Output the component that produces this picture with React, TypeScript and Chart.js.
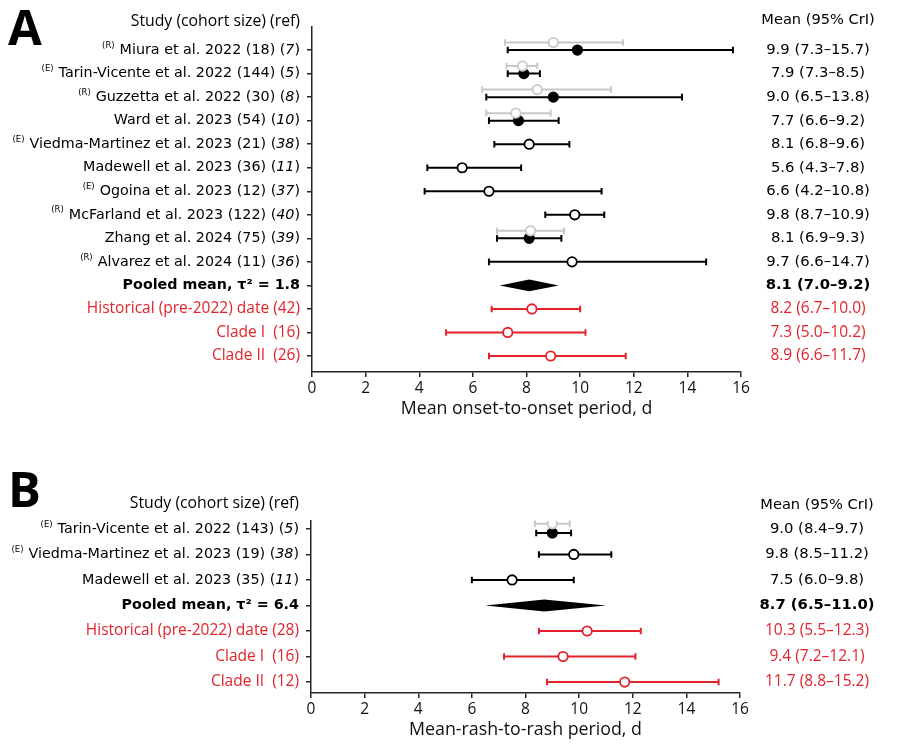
import React, { useEffect, useRef } from 'react';
import { Chart, registerables } from 'chart.js';
Chart.register(...registerables);

// ---------- Panel A data ----------
const A_STUDY = ['Miura et al. 2022', 'Tarin-Vicente et al. 2022', 'Guzzetta et al. 2022', 'Ward et al. 2023', 'Viedma-Martinez et al. 2023', 'Madewell et al. 2023', 'Ogoina et al. 2023', 'McFarland et al. 2023', 'Zhang et al. 2024', 'Alvarez et al. 2024'];
const A_TAG = ['R', 'E', 'R', '', 'E', '', 'E', 'R', '', 'R'];
const A_N = [18, 144, 30, 54, 21, 36, 12, 122, 75, 11];
const A_REF = [7, 5, 8, 10, 38, 11, 37, 40, 39, 36];
const A_MEAN = [9.9, 7.9, 9.0, 7.7, 8.1, 5.6, 6.6, 9.8, 8.1, 9.7];
const A_LOW = [7.3, 7.3, 6.5, 6.6, 6.8, 4.3, 4.2, 8.7, 6.9, 6.6];
const A_HIGH = [15.7, 8.5, 13.8, 9.2, 9.6, 7.8, 10.8, 10.9, 9.3, 14.7];
const A_FILLED = [true, true, true, true, false, false, false, false, true, false];
const A_GRAY_MEAN = [9.0, 7.85, 8.4, 7.6, null, null, null, null, 8.15, null];
const A_GRAY_LOW = [7.2, 7.25, 6.35, 6.5, null, null, null, null, 6.9, null];
const A_GRAY_HIGH = [11.6, 8.4, 11.15, 8.9, null, null, null, null, 9.4, null];
const A_POOLED = [8.1, 7.0, 9.2];
const A_TAU = 1.8;
const A_GROUP = ['Historical (pre-2022) date', 'Clade I ', 'Clade II '];
const A_GROUP_N = [42, 16, 26];
const A_GROUP_MEAN = [8.2, 7.3, 8.9];
const A_GROUP_LOW = [6.7, 5.0, 6.6];
const A_GROUP_HIGH = [10.0, 10.2, 11.7];
const A_GROUP_LOW_REPORTED = [6.7, 5.0, 6.6];

// ---------- Panel B data ----------
const B_STUDY = ['Tarin-Vicente et al. 2022', 'Viedma-Martinez et al. 2023', 'Madewell et al. 2023'];
const B_TAG = ['E', 'E', ''];
const B_N = [143, 19, 35];
const B_REF = [5, 38, 11];
const B_MEAN = [9.0, 9.8, 7.5];
const B_LOW = [8.4, 8.5, 6.0];
const B_HIGH = [9.7, 11.2, 9.8];
const B_FILLED = [true, false, false];
const B_GRAY_MEAN = [9.0, null, null];
const B_GRAY_LOW = [8.35, null, null];
const B_GRAY_HIGH = [9.65, null, null];
const B_POOLED = [8.7, 6.5, 11.0];
const B_TAU = 6.4;
const B_GROUP = ['Historical (pre-2022) date', 'Clade I ', 'Clade II '];
const B_GROUP_N = [28, 16, 12];
const B_GROUP_MEAN = [10.3, 9.4, 11.7];
const B_GROUP_LOW = [8.5, 7.2, 8.8];
const B_GROUP_HIGH = [12.3, 12.1, 15.2];
const B_GROUP_LOW_REPORTED = [5.5, 7.2, 8.8];

const X_MIN = 0;
const X_MAX = 16;
const X_STEP = 2;

const BLACK = '#000000';
const AXIS = '#262626';
const GRAY = '#c8c8c8';
const RED = '#e3232b';
const DJ = '"DejaVu Sans"';
const OS = '"Open Sans"';

const PANELS = [
  {
    letter: 'A', height: 440, top: 0,
    study: A_STUDY, tag: A_TAG, n: A_N, ref: A_REF, mean: A_MEAN, low: A_LOW, high: A_HIGH, filled: A_FILLED,
    gMean: A_GRAY_MEAN, gLow: A_GRAY_LOW, gHigh: A_GRAY_HIGH,
    pooled: A_POOLED, tau: A_TAU,
    group: A_GROUP, groupN: A_GROUP_N, groupMean: A_GROUP_MEAN, groupLow: A_GROUP_LOW, groupHigh: A_GROUP_HIGH, groupLowRep: A_GROUP_LOW_REPORTED,
    xTitle: 'Mean onset-to-onset period, d',
    yMin: -0.98, yMax: 13.68, padLeft: 306, padRight: 159, padTop: 27, xHeight: 68, titlePad: 20,
    blackOff: 0, grayOff: -0.32, diamondH: 5.8,
    letterY: 45, headerStudyY: 26, headerMeanY: 24,
  },
  {
    letter: 'B', height: 309, top: 440,
    study: B_STUDY, tag: B_TAG, n: B_N, ref: B_REF, mean: B_MEAN, low: B_LOW, high: B_HIGH, filled: B_FILLED,
    gMean: B_GRAY_MEAN, gLow: B_GRAY_LOW, gHigh: B_GRAY_HIGH,
    pooled: B_POOLED, tau: B_TAU,
    group: B_GROUP, groupN: B_GROUP_N, groupMean: B_GROUP_MEAN, groupLow: B_GROUP_LOW, groupHigh: B_GROUP_HIGH, groupLowRep: B_GROUP_LOW_REPORTED,
    xTitle: 'Mean-rash-to-rash period, d',
    yMin: -0.31, yMax: 6.43, padLeft: 305, padRight: 160, padTop: 81, xHeight: 56, titlePad: 8,
    blackOff: 0.16, grayOff: -0.2, diamondH: 6,
    letterY: 67, headerStudyY: 68, headerMeanY: 69,
  },
];

const f1 = (v: number) => v.toFixed(1);

function makePlugin(P: any) {
  const nS = P.study.length;
  const pooledRow = nS;
  return {
    id: 'forest' + P.letter,
    beforeDatasetsDraw(chart: any) {
      const ctx = chart.ctx;
      const xs = chart.scales.x;
      const ys = chart.scales.y;
      const bar = (lo: number, hi: number, row: number, color: string) => {
        const y = ys.getPixelForValue(row);
        const x1 = xs.getPixelForValue(lo);
        const x2 = xs.getPixelForValue(hi);
        ctx.save();
        ctx.strokeStyle = color;
        ctx.lineWidth = 2;
        ctx.beginPath();
        ctx.moveTo(x1, y); ctx.lineTo(x2, y);
        ctx.moveTo(x1, y - 3.3); ctx.lineTo(x1, y + 3.3);
        ctx.moveTo(x2, y - 3.3); ctx.lineTo(x2, y + 3.3);
        ctx.stroke();
        ctx.restore();
      };
      for (let i = 0; i < nS; i++) {
        if (P.gMean[i] != null) bar(P.gLow[i], P.gHigh[i], i + P.grayOff, GRAY);
      }
      for (let i = 0; i < nS; i++) {
        bar(P.low[i], P.high[i], i + (P.gMean[i] != null ? P.blackOff : 0), BLACK);
      }
      for (let i = 0; i < P.group.length; i++) {
        bar(P.groupLow[i], P.groupHigh[i], pooledRow + 1 + i, RED);
      }
      // pooled diamond
      const [pm, pl, ph] = P.pooled;
      const y = ys.getPixelForValue(pooledRow);
      ctx.save();
      ctx.fillStyle = BLACK;
      ctx.beginPath();
      ctx.moveTo(xs.getPixelForValue(pl), y);
      ctx.lineTo(xs.getPixelForValue(pm), y - P.diamondH);
      ctx.lineTo(xs.getPixelForValue(ph), y);
      ctx.lineTo(xs.getPixelForValue(pm), y + P.diamondH);
      ctx.closePath();
      ctx.fill();
      ctx.restore();
    },
    afterDraw(chart: any) {
      const ctx = chart.ctx;
      const ys = chart.scales.y;
      const area = chart.chartArea;
      const rightEdge = area.left - 12;
      const valX = area.right + 77;
      ctx.save();
      // panel letter
      ctx.fillStyle = BLACK;
      ctx.textAlign = 'left';
      ctx.textBaseline = 'alphabetic';
      ctx.font = `bold 49px ${OS}`;
      ctx.fillText(P.letter, 8, P.letterY);
      // headers
      ctx.font = `15.8px ${OS}`;
      ctx.textAlign = 'right';
      ctx.fillText('Study (cohort size) (ref)', rightEdge, P.headerStudyY);
      ctx.font = `14.6px ${DJ}`;
      ctx.textAlign = 'center';
      ctx.fillText('Mean (95% CrI)', valX, P.headerMeanY);
      ctx.textBaseline = 'middle';
      // study rows
      for (let i = 0; i < nS; i++) {
        const y = ys.getPixelForValue(i);
        let x = rightEdge;
        ctx.fillStyle = BLACK;
        ctx.textAlign = 'right';
        ctx.font = `14.3px ${DJ}`;
        ctx.fillText(')', x, y);
        x -= ctx.measureText(')').width;
        ctx.font = `italic 14.3px ${DJ}`;
        const r = String(P.ref[i]);
        ctx.fillText(r, x, y);
        x -= ctx.measureText(r).width;
        ctx.font = `14.3px ${DJ}`;
        const t = `${P.study[i]} (${P.n[i]}) (`;
        ctx.fillText(t, x, y);
        x -= ctx.measureText(t).width;
        if (P.tag[i]) {
          ctx.font = `8.5px ${DJ}`;
          ctx.fillText(`(${P.tag[i]})`, x - 5, y - 4.5);
        }
        ctx.font = `14.8px ${DJ}`;
        ctx.textAlign = 'center';
        ctx.fillText(`${f1(P.mean[i])} (${f1(P.low[i])}\u2013${f1(P.high[i])})`, valX, y);
      }
      // pooled row
      {
        const y = ys.getPixelForValue(pooledRow);
        ctx.fillStyle = BLACK;
        ctx.font = `bold 14.3px ${DJ}`;
        ctx.textAlign = 'right';
        ctx.fillText(`Pooled mean, \u03c4\u00b2 = ${f1(P.tau)}`, rightEdge, y);
        ctx.font = `bold 14.8px ${DJ}`;
        ctx.textAlign = 'center';
        const [pm, pl, ph] = P.pooled;
        ctx.fillText(`${f1(pm)} (${f1(pl)}\u2013${f1(ph)})`, valX, y);
      }
      // groups
      for (let i = 0; i < P.group.length; i++) {
        const y = ys.getPixelForValue(pooledRow + 1 + i);
        ctx.fillStyle = RED;
        ctx.font = `15.5px ${OS}`;
        ctx.textAlign = 'right';
        ctx.fillText(`${P.group[i]} (${P.groupN[i]})`, rightEdge, y);
        ctx.textAlign = 'center';
        ctx.fillText(`${f1(P.groupMean[i])} (${f1(P.groupLowRep[i])}\u2013${f1(P.groupHigh[i])})`, valX, y);
      }
      ctx.restore();
    },
  };
}

function buildChart(canvas: HTMLCanvasElement, P: any) {
  const nS = P.study.length;
  const pooledRow = nS;
  const rows: number[] = [];
  for (let i = 0; i < nS + 1 + P.group.length; i++) rows.push(i);
  const gray: any[] = [];
  const filled: any[] = [];
  const open: any[] = [];
  for (let i = 0; i < nS; i++) {
    const hasGray = P.gMean[i] != null;
    if (hasGray) gray.push({ x: P.gMean[i], y: i + P.grayOff });
    const pt = { x: P.mean[i], y: i + (hasGray ? P.blackOff : 0) };
    (P.filled[i] ? filled : open).push(pt);
  }
  const red = P.groupMean.map((m: number, i: number) => ({ x: m, y: pooledRow + 1 + i }));
  const ds = (data: any[], fill: string, border: string) => ({
    data, pointRadius: 4.7, pointHoverRadius: 4.7, pointBackgroundColor: fill, pointBorderColor: border,
    pointBorderWidth: 1.8, showLine: false,
  });
  return new Chart(canvas, {
    type: 'scatter',
    data: {
      datasets: [
        ds(gray, '#ffffff', GRAY),
        ds(filled, BLACK, BLACK),
        ds(open, '#ffffff', BLACK),
        ds(red, '#ffffff', RED),
      ],
    },
    options: {
      responsive: false,
      animation: false,
      devicePixelRatio: 1,
      events: [],
      layout: { padding: { left: P.padLeft, right: P.padRight, top: P.padTop, bottom: 0 } },
      plugins: { legend: { display: false }, tooltip: { enabled: false } },
      scales: {
        x: {
          type: 'linear', min: X_MIN, max: X_MAX,
          afterFit: (s: any) => { s.height = P.xHeight; },
          ticks: { stepSize: X_STEP, font: { family: 'Open Sans', size: 15.5 }, color: '#111', padding: 2, maxRotation: 0, autoSkip: false },
          grid: { display: true, drawOnChartArea: false, drawTicks: true, tickLength: 5, color: AXIS, lineWidth: 1.5 },
          border: { display: true, color: AXIS, width: 1.5 },
          title: { display: true, text: P.xTitle, font: { family: 'Open Sans', size: 17.8 }, color: '#111', padding: { top: 0, bottom: P.titlePad } },
        },
        y: {
          type: 'linear', reverse: true, min: P.yMin, max: P.yMax,
          afterBuildTicks: (s: any) => { s.ticks = rows.map((v) => ({ value: v })); },
          afterFit: (s: any) => { s.width = 6; },
          ticks: { display: false },
          grid: { display: true, drawOnChartArea: false, drawTicks: true, tickLength: 5, color: AXIS, lineWidth: 1.5 },
          border: { display: true, color: AXIS, width: 1.5 },
        },
      },
    } as any,
    plugins: [makePlugin(P)],
  });
}

function Panel({ P }: { P: any }) {
  const ref = useRef<HTMLCanvasElement | null>(null);
  useEffect(() => {
    if (!ref.current) return;
    const c = buildChart(ref.current, P);
    return () => c.destroy();
  }, [P]);
  return (
    <canvas
      ref={ref}
      width={900}
      height={P.height}
      style={{ position: 'absolute', left: 0, top: P.top, width: 900, height: P.height }}
    />
  );
}

export default function App() {
  return (
    <div style={{ position: 'fixed', left: 0, top: 0, width: 900, height: 749, background: '#ffffff', overflow: 'hidden' }}>
      {PANELS.map((P) => (
        <Panel key={P.letter} P={P} />
      ))}
    </div>
  );
}
